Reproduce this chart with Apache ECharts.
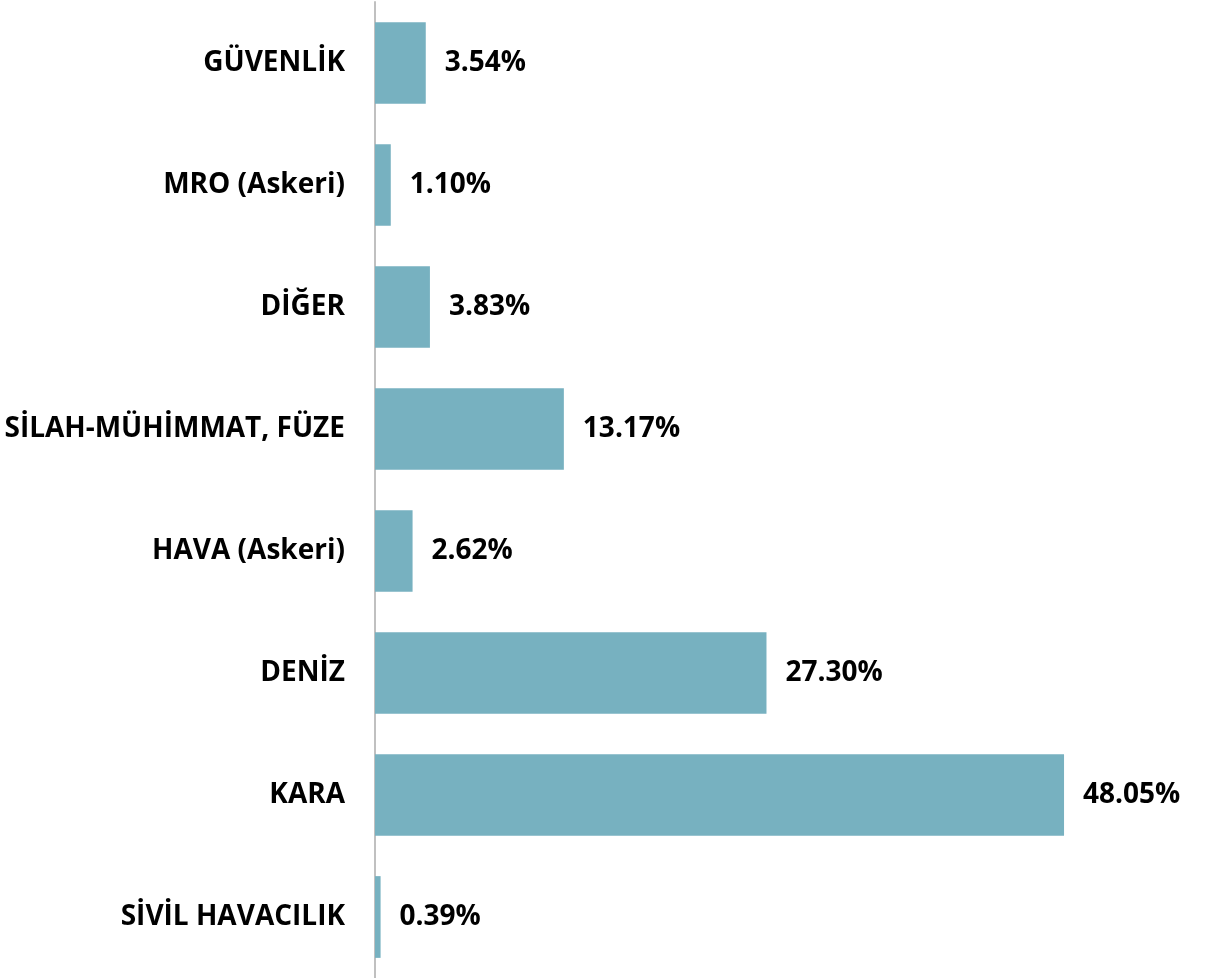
<!DOCTYPE html>
<html>
<head>
<meta charset="utf-8">
<title>Sektörel dağılım</title>
<script src="https://cdn.jsdelivr.net/npm/echarts@6/dist/echarts.min.js"></script>
<style>
  html, body { margin: 0; padding: 0; background: #fff; }
  #chart { width: 1206px; height: 978px; }
</style>
</head>
<body>
<div id="chart"></div>
<script>
  // top to bottom, as in the picture
  const categories = [
    'GÜVENLİK',
    'MRO (Askeri)',
    'DİĞER',
    'SİLAH-MÜHİMMAT, FÜZE',
    'HAVA (Askeri)',
    'DENİZ',
    'KARA',
    'SİVİL HAVACILIK'
  ];
  const shares = [3.54, 1.10, 3.83, 13.17, 2.62, 27.30, 48.05, 0.39];

  const font = '"Open Sans", "Noto Sans", sans-serif';
  const chart = echarts.init(document.getElementById('chart'));

  chart.setOption({
    backgroundColor: '#ffffff',
    animation: false,
    grid: {
      left: 375,
      right: 114,
      top: 2,
      height: 980,
      containLabel: false
    },
    xAxis: {
      type: 'value',
      min: 0,
      max: 50,
      show: false,
      splitLine: { show: false }
    },
    yAxis: {
      type: 'category',
      data: categories,
      inverse: true,
      axisTick: { show: false },
      axisLine: {
        show: true,
        lineStyle: { color: '#c0c0c0', width: 2 }
      },
      axisLabel: {
        margin: 30,
        color: '#000',
        fontFamily: font,
        fontWeight: 'bold',
        fontSize: 28
      }
    },
    series: [
      {
        type: 'bar',
        data: shares,
        barCategoryGap: '33%',
        itemStyle: { color: '#77b1c0' },
        label: {
          show: true,
          position: 'right',
          distance: 19,
          color: '#000',
          fontFamily: font,
          fontWeight: 'bold',
          fontSize: 28,
          formatter: p => p.value.toFixed(2) + '%'
        }
      }
    ]
  });
</script>
</body>
</html>
